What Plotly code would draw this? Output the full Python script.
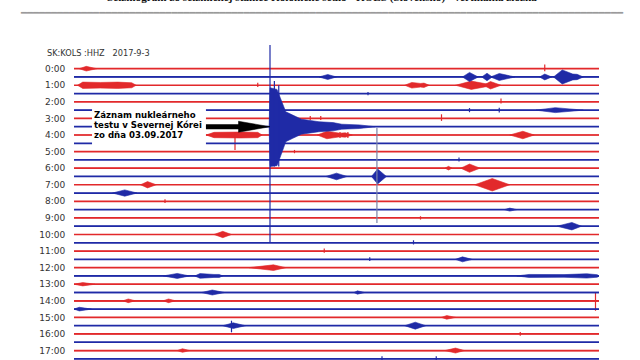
import plotly.graph_objects as go

# ---------------- data ----------------
# helicorder: one line per 30 minutes, even rows red, odd rows blue
row_count = 36                      # rows 0:00 ... 17:30 visible
row_minutes = 30
hour_ticks = [0, -2, -4, -6, -8, -10, -12, -14, -16, -18, -20, -22, -24, -26, -28, -30, -32, -34]
hour_labels = ["0:00", "1:00", "2:00", "3:00", "4:00", "5:00", "6:00", "7:00", "8:00",
               "9:00", "10:00", "11:00", "12:00", "13:00", "14:00", "15:00", "16:00", "17:00"]

# background noise half-amplitude per row (in row-spacing units)
noise_level = [0.04, 0.06, 0.04, 0.03, 0.03, 0.04, 0.03, 0.04, 0.05, 0.03,
               0.03, 0.03, 0.04, 0.05, 0.04, 0.03, 0.03, 0.04, 0.03, 0.04,
               0.04, 0.04, 0.04, 0.04, 0.05, 0.06, 0.08, 0.10, 0.10, 0.05,
               0.04, 0.04, 0.05, 0.08, 0.07, 0.05]

# bursts: row, minutes of envelope points, half-amplitudes (row units)
burst_rows = [0, 1, 1, 1, 1, 1, 1, 2, 2, 2, 2, 5, 8, 8, 8, 8, 12, 12, 13, 13,
              14, 14, 15, 17, 19, 20, 23, 24, 25, 25, 25, 26, 27, 27, 28, 28,
              29, 30, 31, 31, 34, 34]
burst_times = [
    [0.3, 0.7, 1.3],
    [14.0, 14.5, 15.0],
    [22.2, 22.6, 23.1],
    [23.3, 23.6, 23.9],
    [23.8, 24.3, 25.2],
    [26.6, 26.9, 27.3],
    [27.4, 27.9, 28.5, 28.75, 29.1],
    [0.2, 0.5, 1.5, 2.5, 3.3, 3.55],
    [18.9, 19.3, 19.8, 20.0, 20.3],
    [21.8, 22.7, 24.0],
    [23.4, 23.8, 24.4],
    [26.4, 27.5, 29.1],
    [7.55, 8.0, 9.5, 10.5, 10.75],
    [11.3, 11.65, 12.1],
    [13.9, 14.45, 15.2, 15.5, 15.9],
    [24.9, 25.65, 26.3],
    [21.2, 21.4, 21.6],
    [22.1, 22.6, 23.2],
    [14.4, 15.0, 15.6],
    [17.0, 17.35, 17.85],
    [3.8, 4.2, 4.7],
    [22.9, 23.9, 24.9],
    [2.2, 2.9, 3.6],
    [24.6, 24.9, 25.3],
    [27.6, 28.45, 29.0],
    [8.0, 8.5, 9.0],
    [21.8, 22.2, 22.75],
    [10.0, 11.4, 12.1],
    [5.1, 5.9, 6.6],
    [6.9, 7.2, 8.0, 8.3, 8.5],
    [25.3, 26.0, 28.0, 29.3, 29.9, 30.0],
    [0.0, 0.5, 1.2],
    [7.3, 7.9, 8.6],
    [16.0, 16.2, 16.6],
    [2.8, 3.1, 3.5],
    [5.1, 5.4, 5.8],
    [0.0, 0.3, 1.0],
    [21.0, 21.3, 21.8],
    [8.5, 9.1, 9.8],
    [18.9, 19.5, 20.1],
    [5.9, 6.2, 6.6],
    [21.2, 21.8, 22.3],
]
burst_amps = [
    [0, 0.28, 0],
    [0, 0.3, 0],
    [0, 0.55, 0],
    [0, 0.45, 0],
    [0, 0.42, 0],
    [0, 0.35, 0],
    [0, 0.85, 0.35, 0.32, 0],
    [0, 0.38, 0.34, 0.38, 0.3, 0],
    [0, 0.34, 0.22, 0.26, 0],
    [0, 0.5, 0],
    [0, 0.45, 0],
    [0, 0.3, 0],
    [0, 0.32, 0.36, 0.32, 0],
    [0, 0.55, 0],
    [0, 0.45, 0.22, 0.26, 0],
    [0, 0.45, 0],
    [0, 0.22, 0],
    [0, 0.5, 0],
    [0, 0.4, 0],
    [0, 0.9, 0],
    [0, 0.38, 0],
    [0, 0.75, 0],
    [0, 0.38, 0],
    [0, 0.18, 0],
    [0, 0.45, 0],
    [0, 0.38, 0],
    [0, 0.3, 0],
    [0, 0.34, 0],
    [0, 0.3, 0],
    [0, 0.28, 0.18, 0.18, 0],
    [0, 0.18, 0.16, 0.26, 0.15, 0],
    [0, 0.2, 0],
    [0, 0.3, 0],
    [0, 0.2, 0],
    [0, 0.22, 0],
    [0, 0.22, 0],
    [0, 0.22, 0],
    [0, 0.22, 0],
    [0, 0.34, 0],
    [0, 0.42, 0],
    [0, 0.22, 0],
    [0, 0.3, 0],
]

# nuclear test record on row 7 (3:30): envelope above / below the line
quake_row = 7
quake_times = [11.15, 11.2, 11.6, 11.9, 12.1, 12.5, 13.0, 14.0, 14.8, 15.3, 16.3, 17.2]
quake_up = [0, 4.7, 4.5, 3.0, 1.8, 1.4, 0.9, 0.6, 0.5, 0.3, 0.22, 0]
quake_down = [0, 4.8, 4.7, 3.0, 1.8, 1.4, 0.9, 0.6, 0.5, 0.3, 0.22, 0]

# isolated spikes: row, minute, height up, depth down (row units)
spike_rows = [7, 7, 7, 13, 0, 4, 5, 5, 6, 6, 6, 8, 8, 8, 11, 21, 23, 28, 31, 35, 35, 2, 3, 10, 16, 18, 22, 32]
spike_times = [11.2, 11.45, 11.7, 17.31, 26.9, 24.4, 22.6, 24.3, 21.0, 13.5, 14.1, 9.2, 15.2, 15.65,
               22.0, 19.4, 16.9, 29.8, 9.0, 17.6, 20.7, 10.5, 16.8, 12.6, 5.2, 19.8, 14.3, 25.5]
spike_up = [9.86, 5.5, 5.0, 5.85, 0.5, 0.4, 0.25, 0.3, 0.5, 0.3, 0.3, 0.3, 0.35, 0.35,
            0.3, 0.3, 0.25, 1.0, 0.6, 0.3, 0.3, 0.3, 0.2, 0.2, 0.25, 0.2, 0.3, 0.25]
spike_down = [14.0, 4.8, 4.8, 5.6, 0.3, 0.2, 0.25, 0.3, 0.3, 0.2, 0.2, 1.8, 0.35, 0.35,
              0.2, 0.2, 0.2, 1.2, 0.8, 0.2, 0.2, 0.2, 0.2, 0.2, 0.2, 0.2, 0.2, 0.2]

RED = "#e2292b"
BLUE = "#1f2aa6"
GRAY = "#7a84a8"


def row_color(r):
    return RED if r % 2 == 0 else BLUE


fig = go.Figure()

for col in (RED, BLUE):
    rows = [r for r in range(row_count) if row_color(r) == col]
    # noise bands
    nx, ny = [], []
    for r in rows:
        a = noise_level[r]
        nx += [0, row_minutes, row_minutes, 0, None]
        ny += [-r + a, -r + a, -r - a, -r - a, None]
    fig.add_trace(go.Scatter(x=nx, y=ny, mode="lines", fill="toself", fillcolor=col,
                             line=dict(color=col, width=0), hoverinfo="skip", showlegend=False))
    # base lines
    bx, by = [], []
    for r in rows:
        bx += [0, row_minutes, None]
        by += [-r, -r, None]
    fig.add_trace(go.Scatter(x=bx, y=by, mode="lines", line=dict(color=col, width=1.7),
                             hoverinfo="skip", showlegend=False))
    # bursts
    ex, ey = [], []
    for r, ts, amps in zip(burst_rows, burst_times, burst_amps):
        if row_color(r) != col:
            continue
        ex += ts + ts[::-1] + [None]
        ey += [-r + a for a in amps] + [-r - a for a in amps[::-1]] + [None]
    if col == row_color(quake_row):
        ex += quake_times + quake_times[::-1] + [None]
        ey += [-quake_row + a for a in quake_up] + [-quake_row - a for a in quake_down[::-1]] + [None]
    fig.add_trace(go.Scatter(x=ex, y=ey, mode="lines", fill="toself", fillcolor=col,
                             line=dict(color=col, width=0.6), hoverinfo="skip", showlegend=False))
    # spikes
    sx, sy = [], []
    for r, t, u, d in zip(spike_rows, spike_times, spike_up, spike_down):
        if row_color(r) != col or (r == 13 and t == 17.31):
            continue
        sx += [t, t, None]
        sy += [-r + u, -r - d, None]
    fig.add_trace(go.Scatter(x=sx, y=sy, mode="lines", line=dict(color=col, width=1.2),
                             hoverinfo="skip", showlegend=False))

# the grey vertical trace line at 6:30
gx, gy = [], []
for r, t, u, d in zip(spike_rows, spike_times, spike_up, spike_down):
    if r == 13 and t == 17.31:
        gx += [t, t, None]
        gy += [-r + u, -r - d, None]
fig.add_trace(go.Scatter(x=gx, y=gy, mode="lines", line=dict(color=GRAY, width=1.2),
                         hoverinfo="skip", showlegend=False))

# annotation box and arrow
fig.add_shape(type="rect", x0=1.03, x1=7.54, y0=-4.5, y1=-9.57, xref="x", yref="y",
              fillcolor="white", line=dict(width=0), layer="above")
fig.add_shape(type="line", x0=7.54, x1=9.7, y0=-7.0, y1=-7.0, xref="x", yref="y",
              line=dict(color="black", width=5), layer="above")
fig.add_shape(type="path", path="M 9.4,-6.34 L 11.2,-7.0 L 9.4,-7.66 Z", xref="x", yref="y",
              fillcolor="black", line=dict(color="black", width=0.5), layer="above")

box_lines = ["Záznam nukleárneho", "testu v Severnej Kórei", "zo dňa 03.09.2017"]
box_y = [-5.59, -6.79, -7.94]
for txt, yy in zip(box_lines, box_y):
    fig.add_annotation(x=1.03, y=yy, xref="x", yref="y", text="<b>" + txt + "</b>",
                       showarrow=False, xanchor="left", yanchor="middle",
                       font=dict(family="DejaVu Sans", size=8.6, color="black"))

fig.add_annotation(x=-0.0552, y=0.959, xref="paper", yref="paper",
                   text="SK:KOLS :HHZ\u00a0\u00a0\u00a02017-9-3", showarrow=False,
                   xanchor="left", yanchor="middle",
                   font=dict(family="DejaVu Sans", size=8.2, color="#333333"))

# title, with the grey header rule drawn as its second line
title_text = ("<b>Seizmogram zo seizmickej stanice Kolonické sedlo - KOLS (Slovensko) - vertikálna zložka</b>"
              "<br><span style='font-family:DejaVu Sans;font-size:10px;color:#9a9a9a'>"
              + "\u2501" * 100 + "</span>")

fig.update_layout(
    width=640, height=360,
    margin=dict(l=74, r=41, t=40, b=0),
    paper_bgcolor="white", plot_bgcolor="white",
    title=dict(text=title_text,
               xref="container", x=0.503, xanchor="center", yref="container", y=1 - 1 / 360,
               yanchor="top", font=dict(family="Liberation Serif", size=11.2, color="#111111")),
    xaxis=dict(range=[0, 30], visible=False),
    yaxis=dict(range=[-35.14, 3.46], tickvals=hour_ticks, ticktext=hour_labels,
               showgrid=False, zeroline=False, showline=False,
               ticks="outside", ticklen=6, tickcolor="rgba(0,0,0,0)",
               tickfont=dict(family="DejaVu Sans", size=9, color="#333333")),
    showlegend=False,
)

fig.write_html("out.html")
